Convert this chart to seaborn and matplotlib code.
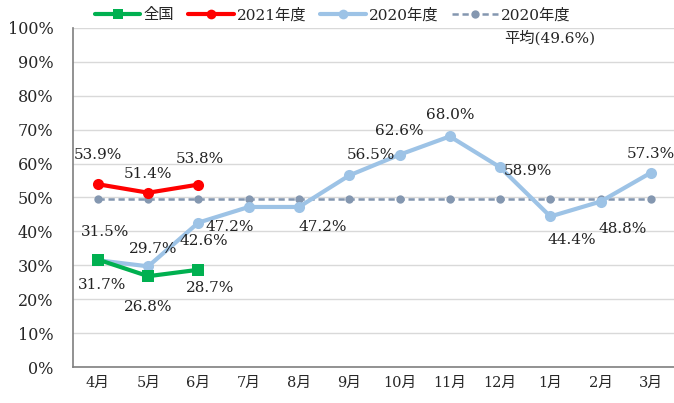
import pandas as pd
import matplotlib.pyplot as plt
from matplotlib.lines import Line2D
import seaborn as sns

months = ['4月', '5月', '6月', '7月', '8月', '9月', '10月', '11月', '12月', '1月', '2月', '3月']
zenkoku = [31.7, 26.8, 28.7]
fy2021 = [53.9, 51.4, 53.8]
fy2020 = [31.5, 29.7, 42.6, 47.2, 47.2, 56.5, 62.6, 68.0, 58.9, 44.4, 48.8, 57.3]
avg2020 = 49.6

# label offsets in pixels (dx, dy) for each series
off2020 = [(7, 28), (5, 17), (5, -18), (-19, -20), (24, -20), (22, 20),
           (0, 24), (0, 21), (28, -4), (21, -24), (22, -27), (0, 19)]
off2021 = [(0, 29), (0, 19), (1, 26)]
offzen = [(4, -25), (0, -31), (12, -18)]

sns.set_style("white")
fam = ['DejaVu Serif', 'Noto Sans CJK JP']
plt.rcParams['font.family'] = fam

x = list(range(len(months)))
df20 = pd.DataFrame({'x': x, 'v': fy2020})
dfavg = pd.DataFrame({'x': x, 'v': [avg2020] * len(months)})
df21 = pd.DataFrame({'x': x[:len(fy2021)], 'v': fy2021})
dfz = pd.DataFrame({'x': x[:len(zenkoku)], 'v': zenkoku})

fig = plt.figure(figsize=(6.74, 4.03), dpi=100)
ax = fig.add_axes([0.108, 0.089, 0.895, 0.842])

c_zen, c_21, c_20, c_avg = '#00B050', '#FF0000', '#9DC3E6', '#8497B0'
dash = (0, (2.5, 1.5))

sns.lineplot(data=dfavg, x='x', y='v', ax=ax, color=c_avg, lw=1.8, linestyle=dash,
             marker='o', markersize=6, markeredgewidth=0, label='_avg')
sns.lineplot(data=df20, x='x', y='v', ax=ax, color=c_20, lw=3, marker='o',
             markersize=8, markeredgewidth=0, label='_20')
sns.lineplot(data=dfz, x='x', y='v', ax=ax, color=c_zen, lw=3, marker='s',
             markersize=8, markeredgewidth=0, label='_z')
sns.lineplot(data=df21, x='x', y='v', ax=ax, color=c_21, lw=3, marker='o',
             markersize=8, markeredgewidth=0, label='_21')

for vals, offs in [(fy2020, off2020), (fy2021, off2021), (zenkoku, offzen)]:
    for i, v in enumerate(vals):
        ax.annotate(f'{v:.1f}%', (i, v), xytext=offs[i], textcoords='offset pixels',
                    ha='center', va='center', fontsize=11, color='#222222')

ax.set_xlim(-0.5, 11.5)
ax.set_ylim(0, 100)
ax.set_yticks(range(0, 101, 10))
ax.set_yticklabels([f'{t}%' for t in range(0, 101, 10)], fontsize=11.5)
ax.set_xticks(x)
ax.set_xticklabels(months, fontsize=10.5)
ax.set_xlabel('')
ax.set_ylabel('')
ax.grid(axis='y', color='#D9D9D9', lw=1)
ax.set_axisbelow(True)
for s in ['top', 'right']:
    ax.spines[s].set_visible(False)
for s in ['left', 'bottom']:
    ax.spines[s].set_color('#7F7F7F')
    ax.spines[s].set_linewidth(1.2)
ax.tick_params(axis='y', length=0, pad=14)
ax.tick_params(axis='x', length=0, pad=6)

# legend
handles = [
    Line2D([], [], color=c_zen, lw=3, marker='s', markersize=7, markeredgewidth=0),
    Line2D([], [], color=c_21, lw=3, marker='o', markersize=7, markeredgewidth=0),
    Line2D([], [], color=c_20, lw=3, marker='o', markersize=7, markeredgewidth=0),
    Line2D([], [], color=c_avg, lw=1.8, linestyle=dash, marker='o', markersize=6, markeredgewidth=0),
]
labels = ['全国', '2021年度', '2020年度', '2020年度']
fig.legend(handles, labels, loc='center left', bbox_to_anchor=(0.12, 0.962), ncol=4,
           frameon=False, fontsize=11, handlelength=3.0, handletextpad=0.2, columnspacing=0.9)
fig.text(0.748, 0.905, '平均(49.6%)', fontsize=11, ha='left', va='center')

fig.savefig('out.png', dpi=100)
